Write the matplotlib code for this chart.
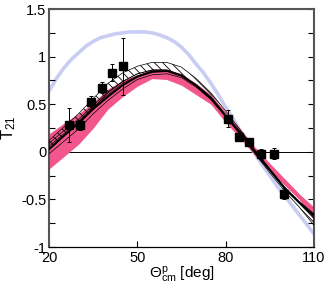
import matplotlib; matplotlib.use("Agg")
import matplotlib.pyplot as plt
from matplotlib.ticker import MultipleLocator

plt.rcParams["font.family"] = "Liberation Sans"
plt.rcParams["mathtext.fontset"] = "custom"
plt.rcParams["mathtext.rm"] = "Liberation Sans"
plt.rcParams["mathtext.it"] = "Liberation Sans"
plt.rcParams["hatch.linewidth"] = 0.6

# angle grid for the theory curves (deg)
ang = [20, 25, 30, 35, 40, 45, 50, 55, 60, 65, 70, 75, 80, 85, 90, 95, 100, 105, 110]
# central calculation (thick black)
t_mid = [0.03, 0.17, 0.30, 0.45, 0.58, 0.70, 0.79, 0.84, 0.85, 0.80, 0.70, 0.57, 0.38, 0.20, 0.0, -0.19, -0.38, -0.53, -0.67]
# thin black calculations
thin_a = [0.09, 0.22, 0.34, 0.49, 0.63, 0.74, 0.82, 0.86, 0.86, 0.81, 0.70, 0.57, 0.39, 0.21, 0.01, -0.18, -0.37, -0.52, -0.65]
thin_b = [-0.02, 0.11, 0.24, 0.40, 0.54, 0.66, 0.76, 0.81, 0.82, 0.78, 0.68, 0.55, 0.37, 0.19, -0.01, -0.20, -0.39, -0.54, -0.69]
thin_c = [0.06, 0.19, 0.32, 0.47, 0.60, 0.72, 0.80, 0.85, 0.85, 0.80, 0.69, 0.56, 0.38, 0.20, 0.0, -0.19, -0.38, -0.53, -0.66]
# pink band
pink_lo = [-0.18, -0.05, 0.08, 0.25, 0.45, 0.58, 0.69, 0.77, 0.76, 0.70, 0.60, 0.50, 0.31, 0.14, -0.04, -0.20, -0.35, -0.50, -0.71]
pink_hi = [0.19, 0.30, 0.40, 0.52, 0.66, 0.75, 0.81, 0.87, 0.87, 0.82, 0.72, 0.60, 0.42, 0.24, 0.05, -0.12, -0.28, -0.44, -0.58]
# hatched band
hat_lo = [0.02, 0.16, 0.30, 0.46, 0.62, 0.74, 0.82, 0.86, 0.86, 0.80, 0.69, 0.55, 0.37, 0.18, -0.02, -0.22, -0.41, -0.58, -0.77]
hat_hi = [0.12, 0.26, 0.40, 0.56, 0.72, 0.83, 0.90, 0.94, 0.94, 0.89, 0.77, 0.62, 0.43, 0.23, 0.02, -0.18, -0.37, -0.54, -0.70]
# other light-blue calculation (finer grid)
ang_b = [20, 22.5, 25, 27.5, 30, 32.5, 35, 37.5, 40, 42.5, 45, 47.5, 50, 52.5, 55, 57.5, 60, 62.5, 65,
         67.5, 70, 72.5, 75, 77.5, 80, 82.5, 85, 87.5, 90, 92.5, 95, 97.5, 100, 102.5, 105, 107.5, 110]
blue = [0.64, 0.77, 0.88, 0.97, 1.04, 1.11, 1.16, 1.20, 1.22, 1.24, 1.25, 1.26, 1.26, 1.26, 1.25, 1.23, 1.20, 1.16, 1.10,
        1.02, 0.92, 0.83, 0.72, 0.60, 0.47, 0.35, 0.22, 0.10, -0.02, -0.14, -0.25, -0.36, -0.46, -0.56, -0.66, -0.76, -0.86]

# data
x_dat = [26.8, 30.4, 34.2, 38.0, 41.5, 45.1, 80.9, 84.6, 88.0, 92.0, 96.3, 99.9]
y_dat = [0.28, 0.28, 0.52, 0.675, 0.83, 0.90, 0.35, 0.16, 0.105, -0.02, -0.02, -0.44]
y_err = [0.18, 0.05, 0.07, 0.06, 0.09, 0.30, 0.09, 0.04, 0.04, 0.05, 0.06, 0.06]

fig = plt.figure(figsize=(3.27, 2.84), dpi=100)
ax = fig.add_axes([0.150, 0.130, 0.810, 0.838])

ax.plot(ang_b, blue, color="#c9cdf3", lw=2.6, zorder=1)
ax.fill_between(ang, pink_lo, pink_hi, color="#f2568c", lw=0, zorder=2)
ax.fill_between(ang, hat_lo, hat_hi, facecolor="none", edgecolor="black",
                hatch="\\\\\\\\", lw=0.5, zorder=3)
for th in (thin_a, thin_b, thin_c):
    ax.plot(ang, th, color="black", lw=0.5, zorder=4)
ax.plot(ang, t_mid, color="black", lw=1.4, zorder=5)
ax.axhline(0, color="black", lw=0.7, zorder=0)
ax.errorbar(x_dat, y_dat, yerr=y_err, fmt="s", color="black", ms=6,
            elinewidth=0.7, capsize=1.5, capthick=0.7, zorder=6)

ax.set_xlim(20, 110)
ax.set_ylim(-1, 1.5)
ax.set_xticks([20, 50, 80, 110])
ax.set_yticks([-1, -0.5, 0, 0.5, 1, 1.5])
ax.set_yticklabels(["-1", "-0.5", "0", "0.5", "1", "1.5"])
ax.yaxis.set_minor_locator(MultipleLocator(0.25))
ax.tick_params(which="both", direction="in", length=4, width=0.8,
               right=True, top=False, labelsize=10.5, pad=2)
ax.tick_params(axis="x", pad=3)
for s in ["left", "right", "top"]:
    ax.spines[s].set_color("#555555")
    ax.spines[s].set_linewidth(1.5)
ax.spines["bottom"].set_linewidth(0.9)

ax.set_xlabel(r"$\Theta^{\mathrm{p}}_{\mathrm{cm}}$ [deg]", fontsize=11, labelpad=0)
ax.set_ylabel(r"T$_{21}$", fontsize=12, labelpad=2)

fig.savefig("out.png", dpi=100)
